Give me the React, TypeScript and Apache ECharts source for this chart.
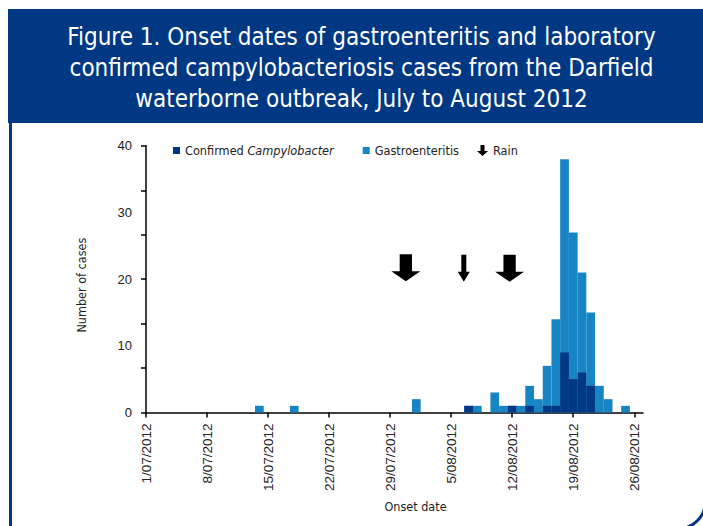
import React, { useEffect, useRef } from "react";
import * as echarts from "echarts";

// Day index 0 = 1/07/2012 ... 56 = 26/08/2012
const gastroenteritis = [
  0, 0, 0, 0, 0, 0, 0, 0, 0, 0, 0, 0, 0, 1, 0, 0, 0, 1, 0, 0,
  0, 0, 0, 0, 0, 0, 0, 0, 0, 0, 0, 2, 0, 0, 0, 0, 0, 1, 1, 0,
  3, 1, 1, 1, 4, 2, 7, 14, 38, 27, 21, 15, 4, 2, 0, 1, 0,
];
const confirmedCampylobacter = [
  0, 0, 0, 0, 0, 0, 0, 0, 0, 0, 0, 0, 0, 0, 0, 0, 0, 0, 0, 0,
  0, 0, 0, 0, 0, 0, 0, 0, 0, 0, 0, 0, 0, 0, 0, 0, 0, 1, 0, 0,
  0, 0, 1, 0, 1, 0, 1, 1, 9, 5, 6, 4, 0, 0, 0, 0, 0,
];
const xTickDays = [0, 7, 14, 21, 28, 35, 42, 49, 56];
const xTickLabels = [
  "1/07/2012", "8/07/2012", "15/07/2012", "22/07/2012", "29/07/2012",
  "5/08/2012", "12/08/2012", "19/08/2012", "26/08/2012",
];
const yTickValues = [0, 20 / 3, 40 / 3, 20, 80 / 3, 100 / 3, 40];
// Rain arrows: [day position, height on y scale, big?]
const rainDays = [29.8, 36.45, 41.7];
const rainLevel = [21.7, 21.65, 21.65];
const rainBig = [true, false, true];

const DARK = "#003883";
const LIGHT = "#1784c4";
const NARROW = "'DejaVu Sans Condensed', 'Liberation Sans Narrow', sans-serif";
const ARIAL = "'Liberation Sans', Arial, sans-serif";

const BIG_ARROW = "path://M8.35,0 L20.65,0 L20.65,17 L29,17 L14.5,27 L0,17 L8.35,17 Z";
const THIN_ARROW = "path://M3.5,0 L8.5,0 L8.5,17 L12,17 L6,27 L0,17 L3.5,17 Z";
const LEGEND_ARROW = "path://M3.5,0 L7.5,0 L7.5,6 L11,6 L5.5,11 L0,6 L3.5,6 Z";

export default function App() {
  const ref = useRef<HTMLDivElement>(null);
  useEffect(() => {
    if (!ref.current) return;
    const chart = echarts.init(ref.current, null, { renderer: "svg" });
    const gData = gastroenteritis.map((v, i) => [i, v]);
    const cData = confirmedCampylobacter.map((v, i) => [i, v]);
    const rainData = rainDays.map((d, i) => ({
      value: [d, rainLevel[i]],
      symbol: rainBig[i] ? BIG_ARROW : THIN_ARROW,
      symbolSize: rainBig[i] ? [29, 27] : [12, 27],
    }));
    const titleStyle = {
      fill: "#ffffff",
      font: `24px ${NARROW}`,
      textAlign: "center",
      textVerticalAlign: "middle",
    };
    chart.setOption({
      animation: false,
      backgroundColor: "#ffffff",
      graphic: [
        {
          type: "rect",
          shape: { x: 10.5, y: 100, width: 695, height: 429, r: [0, 0, 28, 0] },
          style: { fill: "#ffffff", stroke: DARK, lineWidth: 3 },
          z: -10,
        },
        {
          type: "rect",
          shape: { x: 8, y: 9, width: 700, height: 114 },
          style: { fill: DARK },
          z: -5,
        },
        {
          type: "text",
          x: 361.5,
          y: 37,
          style: { ...titleStyle, text: "Figure 1. Onset dates of gastroenteritis and laboratory" },
        },
        {
          type: "text",
          x: 361.5,
          y: 68,
          style: { ...titleStyle, text: "confirmed campylobacteriosis cases from the Darfield" },
        },
        {
          type: "text",
          x: 361.5,
          y: 98.5,
          style: { ...titleStyle, text: "waterborne outbreak, July to August 2012" },
        },
      ],
      legend: [
        {
          left: 173,
          top: 144,
          padding: 0,
          itemWidth: 7,
          itemHeight: 7,
          itemGap: 29,
          icon: "rect",
          data: ["Confirmed Campylobacter", "Gastroenteritis"],
          formatter: (name: string) =>
            name === "Confirmed Campylobacter" ? "Confirmed {i|Campylobacter}" : name,
          textStyle: {
            fontFamily: NARROW,
            fontSize: 12.6,
            color: "#222",
            rich: { i: { fontStyle: "italic", fontFamily: NARROW, fontSize: 12.6, color: "#222" } },
          },
        },
        {
          left: 477,
          top: 144,
          padding: 0,
          itemWidth: 11,
          itemHeight: 11,
          data: [{ name: "Rain", icon: LEGEND_ARROW }],
          textStyle: { fontFamily: NARROW, fontSize: 12.6, color: "#222" },
        },
      ],
      grid: { left: 146, top: 145.8, width: 497, height: 266.7 },
      xAxis: {
        type: "value",
        min: 0,
        max: 57,
        name: "Onset date",
        nameLocation: "middle",
        nameGap: 87,
        nameTextStyle: {
          fontFamily: NARROW,
          fontSize: 12.5,
          color: "#222",
          padding: [0, 0, 0, 42],
        },
        axisLine: { show: true, lineStyle: { color: "#000", width: 1.5 } },
        axisTick: {
          show: true,
          length: 5,
          customValues: xTickDays,
          lineStyle: { color: "#000", width: 1.5 },
        },
        axisLabel: {
          customValues: xTickDays,
          rotate: 90,
          margin: 11,
          fontFamily: ARIAL,
          fontSize: 13.5,
          color: "#222",
          formatter: (v: number) => {
            const idx = xTickDays.indexOf(Math.round(v));
            return idx >= 0 ? xTickLabels[idx] : "";
          },
        },
        splitLine: { show: false },
      },
      yAxis: {
        type: "value",
        min: 0,
        max: 40,
        interval: 10,
        name: "Number of cases",
        nameLocation: "middle",
        nameRotate: 90,
        nameGap: 58,
        nameTextStyle: {
          fontFamily: NARROW,
          fontSize: 12.5,
          color: "#222",
          padding: [0, 12, 0, 0],
        },
        axisLine: { show: true, lineStyle: { color: "#000", width: 1.5 } },
        axisTick: {
          show: true,
          length: 5,
          customValues: yTickValues,
          lineStyle: { color: "#000", width: 1.5 },
        },
        axisLabel: { margin: 14, fontFamily: ARIAL, fontSize: 13, color: "#222" },
        splitLine: { show: false },
      },
      series: [
        {
          name: "Gastroenteritis",
          type: "bar",
          data: gData,
          barWidth: "100%",
          barGap: "-100%",
          itemStyle: { color: LIGHT },
          z: 2,
        },
        {
          name: "Confirmed Campylobacter",
          type: "bar",
          data: cData,
          barWidth: "100%",
          barGap: "-100%",
          itemStyle: { color: DARK },
          z: 3,
        },
        {
          name: "Rain",
          type: "scatter",
          data: rainData,
          itemStyle: { color: "#000", opacity: 1 },
          z: 4,
        },
      ],
    });
    return () => chart.dispose();
  }, []);
  return (
    <div
      ref={ref}
      style={{ position: "fixed", left: 0, top: 0, width: 703, height: 526 }}
    />
  );
}
